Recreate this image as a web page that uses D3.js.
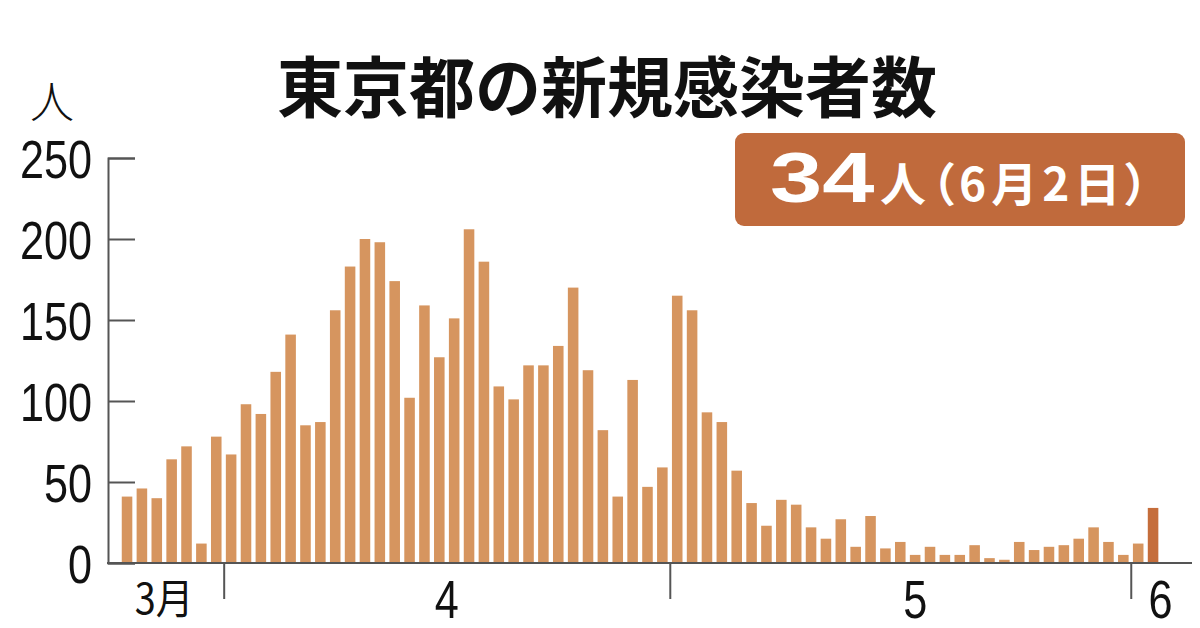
<!DOCTYPE html>
<html>
<head>
<meta charset="utf-8">
<script src="https://cdn.jsdelivr.net/npm/d3@7"></script>
<style>
  html, body { margin: 0; padding: 0; background: #fff; }
  .num { font-family: "Liberation Sans", Arial, sans-serif; }
  .jp { font-family: "Noto Sans CJK JP", sans-serif; }
  .palt { font-feature-settings: "palt"; }
</style>
</head>
<body>
<div id="chart"></div>
<script>
// daily new cases in Tokyo, Mar 25 - Jun 2
const startDay = new Date(2020, 2, 25);
const marchVals = [41, 46, 40, 64, 72, 12, 78];
const aprilVals = [67, 98, 92, 118, 141, 85, 87, 156, 183, 200, 198, 174, 102, 159, 127,
	151, 206, 186, 109, 101, 122, 122, 134, 170, 119, 82, 41, 113, 47, 59];
const mayVals = [165, 156, 93, 87, 57, 37, 23, 39, 36, 22, 15, 27, 10, 29, 9,
	13, 5, 10, 5, 5, 11, 3, 2, 13, 8, 10, 11, 15, 22, 13, 5];
const juneVals = [12, 34];

const yTicks = [0, 50, 100, 150, 200, 250];
const monthStarts = [new Date(2020, 3, 1), new Date(2020, 4, 1), new Date(2020, 5, 1)];
const monthLabels = ["3月", "4", "5", "6"];
const monthLabelDates = [new Date(2020, 2, 28), new Date(2020, 3, 16), new Date(2020, 4, 17, 12), new Date(2020, 5, 3)];

const titleText = "東京都の新規感染者数";
const badgeNum = "34";
const badgeRest = "人（6月2日）";

const values = [...marchVals, ...aprilVals, ...mayVals, ...juneVals];
const days = d3.timeDay.range(startDay, d3.timeDay.offset(startDay, values.length));
const data = days.map((d, i) => ({ day: d, v: values[i] }));

const w = 1200, h = 628;
const xLeft = 119.6, xRight = 1160.5, yBase = 563, yTop = 158;
const narrow = 0.8; //squeeze digits like a condensed face

const svg = d3.select("#chart").append("svg")
	.attr("width", w).attr("height", h);

svg.append("rect").attr("width", w).attr("height", h).attr("fill", "#fff");

//scales
const x = d3.scaleBand()
	.domain(days)
	.range([xLeft, xRight])
	.paddingInner(0.29)
	.paddingOuter(0.145);

const xt = d3.scaleTime()
	.domain([days[0], d3.timeDay.offset(days[days.length - 1], 1)])
	.range([xLeft, xRight]);

const y = d3.scaleLinear().domain([0, 250]).range([yBase, yTop]);

//bars
svg.append("g").selectAll("rect")
	.data(data)
	.join("rect")
	.attr("x", d => x(d.day))
	.attr("width", x.bandwidth())
	.attr("y", d => y(d.v))
	.attr("height", d => yBase - y(d.v))
	.attr("fill", (d, i) => i == data.length - 1 ? "#c56d3b" : "#d6955f");

//y axis
const yAxis = svg.append("g")
	.attr("transform", "translate(108,0)")
	.call(d3.axisLeft(y).tickValues(yTicks).tickSize(-27).tickPadding(16));
yAxis.select(".domain").attr("stroke", "#555").attr("stroke-width", 2);
yAxis.selectAll(".tick line").attr("stroke", "#555").attr("stroke-width", 2);
yAxis.selectAll(".tick text")
	.attr("class", "num")
	.attr("font-size", 54)
	.attr("fill", "#111")
	.attr("x", -16 / narrow)
	.attr("transform", `scale(${narrow},1)`)
	.attr("dy", "0.36em");

//x axis
const xAxis = svg.append("g")
	.attr("transform", `translate(0,${yBase})`)
	.call(d3.axisBottom(xt).tickValues(monthStarts).tickSize(36).tickFormat(""));
xAxis.select(".domain").remove();
xAxis.selectAll(".tick line").attr("stroke", "#555").attr("stroke-width", 2);
xAxis.append("line")
	.attr("x1", 107).attr("x2", 1192)
	.attr("stroke", "#555").attr("stroke-width", 2);

svg.append("g").selectAll("text")
	.data(monthLabels)
	.join("text")
	.attr("class", (d, i) => i == 0 ? "jp" : "num")
	.attr("transform", (d, i) => `translate(${xt(monthLabelDates[i])},${i == 0 ? 614 : 618}) scale(${i == 0 ? 0.9 : narrow},1)`)
	.attr("text-anchor", "middle")
	.attr("font-size", (d, i) => i == 0 ? 42 : 54)
	.attr("fill", "#111")
	.text(d => d);

//unit
svg.append("text")
	.attr("class", "jp")
	.attr("x", 52).attr("y", 118)
	.attr("text-anchor", "middle")
	.attr("font-size", 44)
	.attr("font-weight", 300)
	.attr("fill", "#111")
	.text("人");

//title
svg.append("text")
	.attr("class", "jp")
	.attr("x", 607).attr("y", 112)
	.attr("text-anchor", "middle")
	.attr("font-size", 66)
	.attr("font-weight", 700)
	.attr("fill", "#111")
	.text(titleText);

//badge
svg.append("rect")
	.attr("x", 735).attr("y", 133)
	.attr("width", 450).attr("height", 93)
	.attr("rx", 9)
	.attr("fill", "#c06a3c");

svg.append("text")
	.attr("class", "num")
	.attr("transform", "translate(770,202) scale(1.34,1)")
	.attr("font-size", 70)
	.attr("font-weight", 700)
	.attr("fill", "#fff")
	.text(badgeNum);

svg.append("text")
	.attr("class", "jp palt")
	.attr("x", 880).attr("y", 201)
	.attr("font-size", 46)
	.attr("font-weight", 700)
	.attr("letter-spacing", 5)
	.attr("fill", "#fff")
	.text(badgeRest);
</script>
</body>
</html>
